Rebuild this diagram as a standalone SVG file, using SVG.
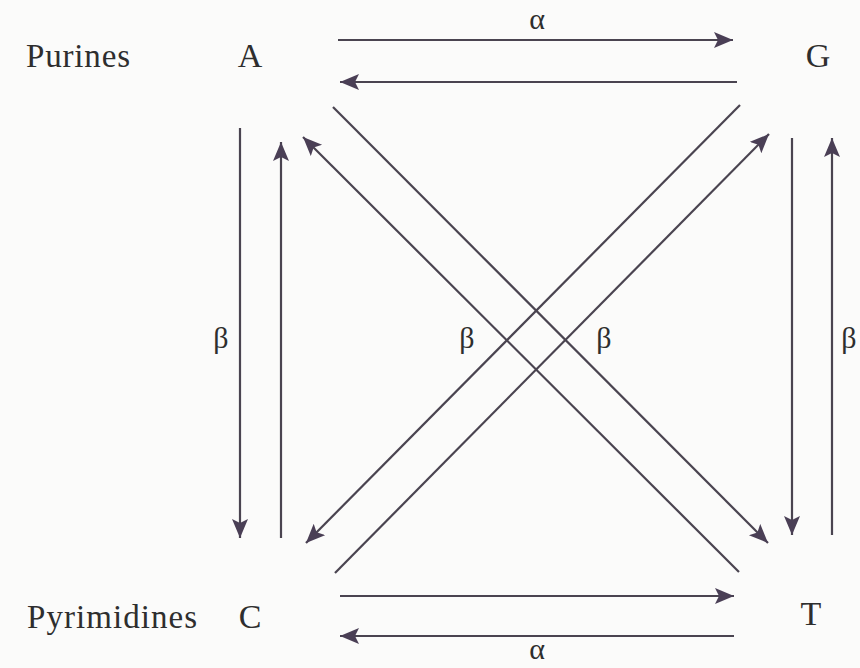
<svg xmlns="http://www.w3.org/2000/svg" width="860" height="668" viewBox="0 0 860 668">
  <defs>
    <marker id="ah" markerUnits="userSpaceOnUse" markerWidth="22" markerHeight="18" refX="19" refY="8" orient="auto">
      <path d="M0,0 L19,8 L0,16 L4,8 Z" fill="#4a3f55"/>
    </marker>
    <style>
      .lbl { font-family: "Liberation Serif", "Times New Roman", serif; fill: #2e2e2e; }
      .big { font-size: 33px; }
      .greek { font-size: 30px; text-anchor: middle; }
      .node { font-size: 34px; text-anchor: middle; }
      .edge { stroke: #4a4450; stroke-width: 2.2; fill: none; marker-end: url(#ah); }
    </style>
  </defs>
  <rect width="860" height="668" fill="#fbfbfa"/>

  <g id="label-purines"><text class="lbl big" x="26" y="67" textLength="104">Purines</text></g>
  <g id="label-pyrimidines"><text class="lbl big" x="27" y="628" textLength="170">Pyrimidines</text></g>

  <g id="node-A"><text class="lbl node" x="250" y="67">A</text></g>
  <g id="node-G"><text class="lbl node" x="818" y="67">G</text></g>
  <g id="node-C"><text class="lbl node" x="250" y="628">C</text></g>
  <g id="node-T"><text class="lbl node" x="811" y="625">T</text></g>

  <g id="connectors">
    <line class="edge" x1="338" y1="40" x2="733" y2="40"/>
    <line class="edge" x1="737" y1="82" x2="340" y2="82"/>
    <line class="edge" x1="240" y1="128" x2="240" y2="538"/>
    <line class="edge" x1="281" y1="538" x2="281" y2="142"/>
    <line class="edge" x1="792" y1="138" x2="792" y2="535"/>
    <line class="edge" x1="832" y1="535" x2="832" y2="138"/>
    <line class="edge" x1="333" y1="107" x2="768" y2="543"/>
    <line class="edge" x1="739" y1="572" x2="303" y2="137"/>
    <line class="edge" x1="740" y1="105" x2="306" y2="543"/>
    <line class="edge" x1="335" y1="573" x2="769" y2="134"/>
    <line class="edge" x1="340" y1="596" x2="734" y2="596"/>
    <line class="edge" x1="734" y1="636" x2="340" y2="636"/>
  </g>

  <g id="edge-labels">
    <text class="lbl greek" x="537" y="29">α</text>
    <text class="lbl greek" x="537" y="659">α</text>
    <text class="lbl greek" x="221" y="348">β</text>
    <text class="lbl greek" x="467" y="348">β</text>
    <text class="lbl greek" x="604" y="348">β</text>
    <text class="lbl greek" x="849" y="348">β</text>
  </g>
</svg>
